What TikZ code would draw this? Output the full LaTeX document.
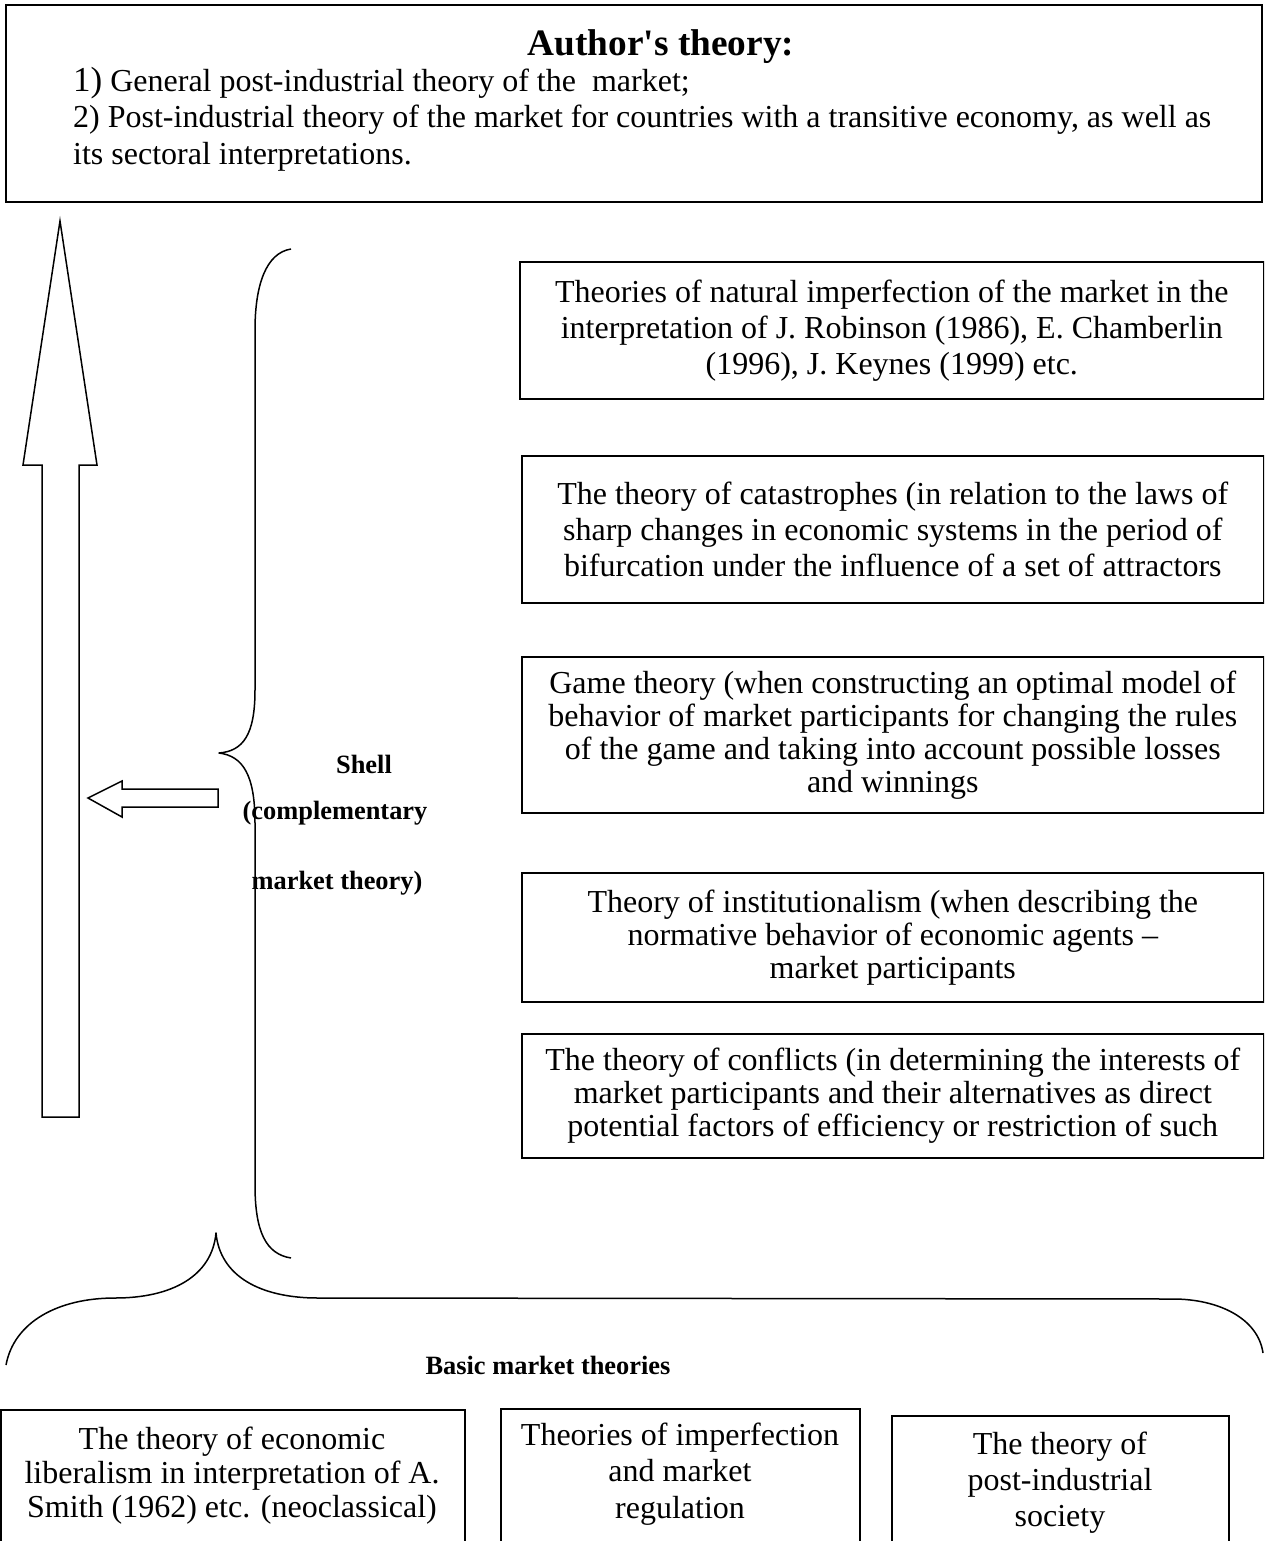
\documentclass[tikz,border=0pt]{standalone}
\usepackage{fontspec}
\setmainfont{Liberation Serif}
\begin{document}
\begin{tikzpicture}[x=1pt,y=-1pt,
  frame/.style={draw=black, line width=1.6pt, inner sep=0pt},
  theorybox/.style={frame, anchor=north west, align=center,
    font=\fontsize{32}{36}\selectfont},
  tightbox/.style={theorybox, font=\fontsize{32}{33}\selectfont},
  plain/.style={inner sep=0pt, font=\fontsize{32}{34}\selectfont},
  label/.style={inner sep=0pt, font=\bfseries\fontsize{26.4}{30}\selectfont},
  curly/.style={draw=black, line width=1.5pt, line join=round},
  blockarrow/.style={draw=black, line width=1.5pt, fill=white, line join=miter}
]
\useasboundingbox (0,0) rectangle (1264,1541);
\clip (0,0) rectangle (1264,1541);

% ---- header box: the author's theory ----
\node[frame, anchor=north west, minimum width=1256, minimum height=197] (author) at (5,4) {};
\node[inner sep=0pt, anchor=base, font=\bfseries\fontsize{37.3}{40}\selectfont] (title) at (661,56) {Author\textquotesingle s theory:};
\node[plain, anchor=base west] (item1) at (73,92)
  {{\fontsize{35}{35}\selectfont 1)} General post-industrial theory of the \ market;};
\node[plain, anchor=base west] (item2) at (73,128)
  {2) Post-industrial theory of the market for countries with a transitive economy, as well as};
\node[plain, anchor=base west] (item3) at (73,165)
  {its sectoral interpretations.};

% ---- large upward block arrow ----
\draw[blockarrow] (60,221) -- (97,465) -- (79,465) -- (79,1117) -- (42,1117)
  -- (42,465) -- (23,465) -- cycle;

% ---- small left block arrow from the shell ----
\draw[blockarrow] (88,798) -- (122,781) -- (122,789) -- (218,789) -- (218,807)
  -- (122,807) -- (122,817) -- cycle;

% ---- vertical brace grouping the complementary theories ----
\draw[curly] (291,249) .. controls (266,253) and (255,285) .. (255,330)
  -- (255,690) .. controls (255,735) and (243,751) .. (219,753)
  .. controls (243,756) and (255,775) .. (255,823)
  -- (255,1185) .. controls (255,1232) and (266,1254) .. (291,1258);

% ---- shell label ----
\node[label, anchor=base] (shell) at (364,773) {Shell};
\node[label, anchor=base] (shell2) at (335,819) {(complementary};
\node[label, anchor=base] (shell3) at (337,889) {market theory)};

% ---- complementary theories ----
\node[theorybox, minimum width=744, minimum height=137] (robinson) at (519,261)
  {Theories of natural imperfection of the market in the\\
   interpretation of J. Robinson (1986), E. Chamberlin\\
   (1996), J. Keynes (1999) etc.};
\node[theorybox, minimum width=742, minimum height=147] (catastrophe) at (521,455)
  {The theory of catastrophes (in relation to the laws of\\
   sharp changes in economic systems in the period of\\
   bifurcation under the influence of a set of attractors};
\node[tightbox, minimum width=742, minimum height=156] (games) at (521,656)
  {Game theory (when constructing an optimal model of\\
   behavior of market participants for changing the rules\\
   of the game and taking into account possible losses\\
   and winnings};
\node[tightbox, minimum width=742, minimum height=129] (institution) at (521,872)
  {Theory of institutionalism (when describing the\\
   normative behavior of economic agents --\\
   market participants};
\node[tightbox, minimum width=742, minimum height=124] (conflict) at (521,1033)
  {The theory of conflicts (in determining the interests of\\
   market participants and their alternatives as direct\\
   potential factors of efficiency or restriction of such};

% ---- horizontal brace over the basic theories ----
\draw[curly] (6,1365) .. controls (14,1322) and (58,1298) .. (115,1298)
  .. controls (172,1298) and (212,1276) .. (216,1233)
  .. controls (220,1276) and (260,1298) .. (318,1298)
  -- (1173,1299) .. controls (1218,1299) and (1258,1318) .. (1263,1353);

\node[label, anchor=base] (basic) at (548,1374) {Basic market theories};

% ---- basic market theories ----
\node[frame, anchor=north west, minimum width=464, minimum height=220] (liberal) at (0,1409) {};
\node[frame, anchor=north west, minimum width=359, minimum height=220] (regulation) at (500,1408) {};
\node[frame, anchor=north west, minimum width=337, minimum height=220] (postind) at (891,1415) {};

\node[plain, align=center, font=\fontsize{32}{34}\selectfont] (liberaltext) at (232,1476)
  {The theory of economic\\liberalism in interpretation of A.\\Smith (1962) etc. (neoclassical)};
\node[plain, align=center, font=\fontsize{32}{36.5}\selectfont] (regtext) at (680,1474)
  {Theories of imperfection\\and market\\regulation};
\node[plain, align=center, font=\fontsize{32}{36}\selectfont] (posttext) at (1060,1483)
  {The theory of\\post-industrial\\society};
\end{tikzpicture}
\end{document}
